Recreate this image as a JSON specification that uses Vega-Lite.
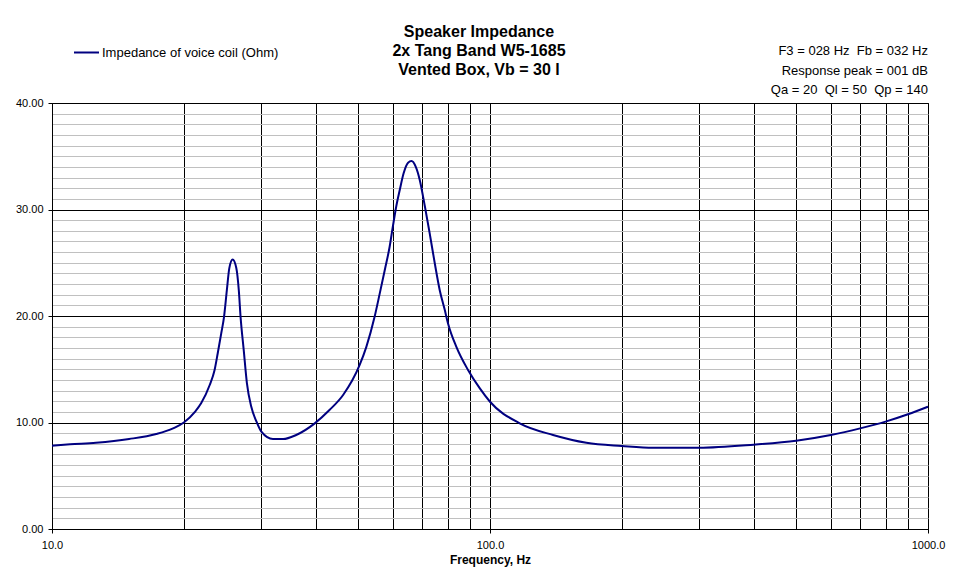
{
  "$schema": "https://vega.github.io/schema/vega-lite/v6.json",
  "width": 876,
  "height": 426,
  "autosize": {"type": "none"},
  "padding": {"left": 52, "top": 103, "right": 28, "bottom": 48},
  "background": "white",
  "title": {
    "text": ["Speaker Impedance", "2x Tang Band W5-1685", "Vented Box, Vb = 30 l"],
    "font": "Liberation Sans",
    "fontSize": 16,
    "fontWeight": "bold",
    "color": "black",
    "anchor": "middle",
    "frame": "group",
    "dx": -11,
    "dy": 67,
    "lineHeight": 19,
    "offset": 28
  },
  "data": {
    "values": [
      {"freq": 10, "ohm": 7.82},
      {"freq": 11, "ohm": 7.95},
      {"freq": 12.6, "ohm": 8.1},
      {"freq": 15.0, "ohm": 8.45},
      {"freq": 17.3, "ohm": 8.92},
      {"freq": 18.9, "ohm": 9.45},
      {"freq": 20.0, "ohm": 10.0},
      {"freq": 21.2, "ohm": 11.0},
      {"freq": 21.9, "ohm": 11.8},
      {"freq": 22.9, "ohm": 13.5},
      {"freq": 23.5, "ohm": 14.9},
      {"freq": 23.9, "ohm": 16.5},
      {"freq": 24.35, "ohm": 18.4},
      {"freq": 24.7, "ohm": 19.9},
      {"freq": 25.07, "ohm": 22.4},
      {"freq": 25.4, "ohm": 24.5},
      {"freq": 25.85, "ohm": 25.3},
      {"freq": 26.35, "ohm": 24.5},
      {"freq": 26.7, "ohm": 22.4},
      {"freq": 26.95, "ohm": 19.9},
      {"freq": 27.4, "ohm": 16.8},
      {"freq": 27.86, "ohm": 13.7},
      {"freq": 28.5, "ohm": 11.5},
      {"freq": 29.3, "ohm": 10.08},
      {"freq": 30.06, "ohm": 9.14},
      {"freq": 31.95, "ohm": 8.45},
      {"freq": 33.7, "ohm": 8.45},
      {"freq": 36.1, "ohm": 8.83},
      {"freq": 39.8, "ohm": 9.92},
      {"freq": 43.0, "ohm": 11.17},
      {"freq": 46.2, "ohm": 12.58},
      {"freq": 50.4, "ohm": 15.4},
      {"freq": 52.2, "ohm": 17.1},
      {"freq": 54.5, "ohm": 19.9},
      {"freq": 56.0, "ohm": 22.1},
      {"freq": 57.5, "ohm": 24.3},
      {"freq": 59.0, "ohm": 26.5},
      {"freq": 60.06, "ohm": 28.5},
      {"freq": 61.1, "ohm": 30.3},
      {"freq": 62.2, "ohm": 31.8},
      {"freq": 63.5, "ohm": 33.4},
      {"freq": 65.0, "ohm": 34.4},
      {"freq": 66.2, "ohm": 34.55},
      {"freq": 67.7, "ohm": 34.0},
      {"freq": 69.1, "ohm": 32.8},
      {"freq": 71.0, "ohm": 30.3},
      {"freq": 72.8, "ohm": 27.8},
      {"freq": 74.8, "ohm": 24.95},
      {"freq": 76.8, "ohm": 22.4},
      {"freq": 78.8, "ohm": 20.6},
      {"freq": 80.2, "ohm": 19.3},
      {"freq": 83.8, "ohm": 17.1},
      {"freq": 89.1, "ohm": 14.93},
      {"freq": 94.8, "ohm": 13.2},
      {"freq": 100, "ohm": 11.95},
      {"freq": 116.9, "ohm": 9.92},
      {"freq": 139.3, "ohm": 8.83},
      {"freq": 166, "ohm": 8.1},
      {"freq": 200, "ohm": 7.8},
      {"freq": 236, "ohm": 7.63},
      {"freq": 300, "ohm": 7.63},
      {"freq": 400, "ohm": 7.92},
      {"freq": 500, "ohm": 8.29},
      {"freq": 600, "ohm": 8.83},
      {"freq": 700, "ohm": 9.45},
      {"freq": 800, "ohm": 10.08},
      {"freq": 900, "ohm": 10.77},
      {"freq": 1000, "ohm": 11.48}
    ]
  },
  "layer": [
    {
      "mark": {"type": "line", "interpolate": "monotone", "strokeWidth": 2},
      "encoding": {
        "x": {
          "field": "freq",
          "type": "quantitative",
          "scale": {"type": "log", "domain": [10, 1000], "nice": false},
          "axis": {
            "title": "Frequency, Hz",
            "values": [10, 20, 30, 40, 50, 60, 70, 80, 90, 100, 200, 300, 400, 500, 600, 700, 800, 900, 1000],
            "tickCount": 50,
            "labelExpr": "(datum.value == 10 || datum.value == 100 || datum.value == 1000) ? format(datum.value, '.1f') : ''",
            "tickOpacity": {"condition": {"test": "datum.value == 10 || datum.value == 100 || datum.value == 1000", "value": 1}, "value": 0},
            "grid": true,
            "gridColor": "black",
            "tickSize": 4,
            "labelPadding": 6,
            "titlePadding": 4
          }
        },
        "y": {
          "field": "ohm",
          "type": "quantitative",
          "scale": {"domain": [0, 40], "nice": false},
          "axis": {
            "title": null,
            "values": [0, 1, 2, 3, 4, 5, 6, 7, 8, 9, 10, 11, 12, 13, 14, 15, 16, 17, 18, 19, 20, 21, 22, 23, 24, 25, 26, 27, 28, 29, 30, 31, 32, 33, 34, 35, 36, 37, 38, 39, 40],
            "tickCount": 100,
            "labelExpr": "datum.value % 10 == 0 ? format(datum.value, '.2f') : ''",
            "tickOpacity": {"condition": {"test": "datum.value % 10 == 0", "value": 1}, "value": 0},
            "grid": true,
            "gridColor": {"condition": {"test": "datum.value % 10 == 0", "value": "black"}, "value": "#c0c0c0"},
            "tickSize": 4,
            "labelPadding": 5
          }
        },
        "color": {
          "datum": "Impedance of voice coil (Ohm)",
          "scale": {"range": ["#000080"]},
          "legend": {
            "title": null,
            "orient": "none",
            "legendX": 21,
            "legendY": -64,
            "symbolType": "stroke",
            "symbolSize": 625,
            "symbolStrokeWidth": 2,
            "labelFontSize": 13,
            "labelFont": "Liberation Sans",
            "labelColor": "black",
            "labelOffset": 2,
            "labelLimit": 400,
            "padding": 0
          }
        }
      }
    },
    {
      "data": {"values": [{"info": "F3 = 028 Hz\u00a0\u00a0Fb = 032 Hz\nResponse peak = 001 dB\nQa = 20\u00a0\u00a0Ql = 50\u00a0\u00a0Qp = 140"}]},
      "mark": {
        "type": "text",
        "align": "right",
        "baseline": "alphabetic",
        "lineBreak": "\n",
        "lineHeight": 19.7,
        "dy": -48,
        "font": "Liberation Sans",
        "fontSize": 13,
        "color": "black"
      },
      "encoding": {
        "x": {"datum": 1000, "type": "quantitative"},
        "y": {"datum": 40, "type": "quantitative"},
        "text": {"field": "info", "type": "nominal"}
      }
    }
  ],
  "config": {
    "view": {"stroke": "black", "strokeWidth": 1},
    "axis": {
      "labelFont": "Liberation Sans",
      "labelFontSize": 11,
      "labelColor": "black",
      "labelOverlap": false,
      "labelFlush": false,
      "labelBound": false,
      "titleFont": "Liberation Sans",
      "titleFontSize": 12,
      "titleFontWeight": "bold",
      "titleColor": "black",
      "domainColor": "black",
      "tickColor": "black",
      "gridOpacity": 1,
      "gridWidth": 1
    }
  }
}
